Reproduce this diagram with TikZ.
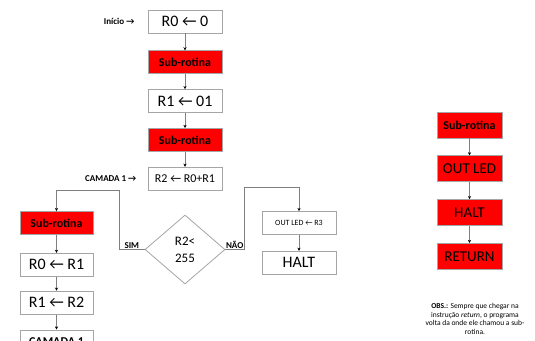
\documentclass[tikz,border=0pt]{standalone}
\usepackage{fontspec}
\setmainfont{Carlito}
\usetikzlibrary{positioning,arrows.meta,shapes.geometric}
\definecolor{ink}{HTML}{000000}
\definecolor{boxline}{HTML}{A5A5A5}
\definecolor{wire}{HTML}{7F7F7F}
\definecolor{subred}{HTML}{FF0000}

\begin{document}
\begin{tikzpicture}[x=1pt, y=-1pt,
  box/.style={draw=boxline, fill=white, line width=0.8pt, minimum width=74pt, minimum height=23pt, inner sep=1pt, text=ink, font=\fontsize{16}{18}\selectfont},
  subbox/.style={box, fill=subred, font=\fontsize{12}{14}\selectfont\bfseries},
  rbox/.style={box, fill=subred, minimum width=65pt, minimum height=26pt, font=\fontsize{15}{17}\selectfont},
  dec/.style={diamond, draw=boxline, fill=white, line width=0.8pt, minimum width=80pt, minimum height=69pt, aspect=1.16, inner sep=0pt, align=center, text=ink, font=\fontsize{13}{17}\selectfont},
  tag/.style={font=\fontsize{9}{11}\selectfont\bfseries, text=ink, inner sep=1pt},
  arr/.style={-{Stealth[length=3.2pt, width=3.2pt, color=ink]}, line width=0.6pt, draw=wire},
  node distance=15pt]
\clip (0,0) rectangle (535,340);
% ---------------- main column
\node[box] (r0) at (185,21.5) {R0 ← 0};
\node[tag, left=12pt of r0] (ini) {Início →};
\node[subbox, below=17pt of r0] (s1) {Sub-rotina};
\node[box, below=of s1] (r1) {R1 ← 01};
\node[subbox, below=of r1] (s2) {Sub-rotina};
\node[box, below=of s2, font=\fontsize{12}{14}\selectfont] (r2) {R2 ← R0+R1};
\node[tag, left=10pt of r2] (cam) {CAMADA 1 →};
\node[dec, below=24pt of r2] (test) {R2<\\255};
\draw[arr] (r0) -- (s1); \draw[arr] (s1) -- (r1); \draw[arr] (r1) -- (s2); \draw[arr] (s2) -- (r2);
% ---------------- SIM branch
\coordinate (simc) at (119,190);
\node[subbox, minimum width=73pt] (s3) at (56.5,223) {Sub-rotina};
\node[box, minimum width=73pt, below=18pt of s3] (a0) {R0 ← R1};
\node[box, minimum width=73pt, below=14pt of a0] (a1) {R1 ← R2};
\node[box, minimum width=73pt, below=15pt of a1, font=\fontsize{12}{14}\selectfont\bfseries] (cam2) {CAMADA 1};
\draw[arr] (test.west) -| node[pos=0.25, above, tag]{SIM} (simc) -| (s3.north);
\draw[arr] (s3) -- (a0); \draw[arr] (a0) -- (a1); \draw[arr] (a1) -- (cam2);
% ---------------- NAO branch
\coordinate (naoc) at (244,187);
\node[box, font=\fontsize{8}{10}\selectfont] (out) at (299,223) {OUT LED ← R3};
\node[box, below=16pt of out] (halt) {HALT};
\draw[arr] (test.east) -| node[pos=0.25, above, tag]{NÃO} (naoc) -| (out.north);
\draw[arr] (out) -- (halt);
% ---------------- sub-rotina column
\node[rbox, font=\fontsize{12}{14}\selectfont\bfseries] (rs) at (469.5,125) {Sub-rotina};
\node[rbox, below=17pt of rs] (rout) {OUT LED};
\node[rbox, below=17pt of rout] (rhalt) {HALT};
\node[rbox, below=17pt of rhalt] (rret) {RETURN};
\draw[arr] (rs) -- (rout); \draw[arr] (rout) -- (rhalt); \draw[arr] (rhalt) -- (rret);
\node[align=center, text=ink, font=\fontsize{7.5}{8.7}\selectfont] (obs) at (475,319) {\textbf{OBS.:} Sempre que chegar na\\instrução \textit{return}, o programa\\volta da onde ele chamou a sub-\\rotina.};
\end{tikzpicture}
\end{document}
